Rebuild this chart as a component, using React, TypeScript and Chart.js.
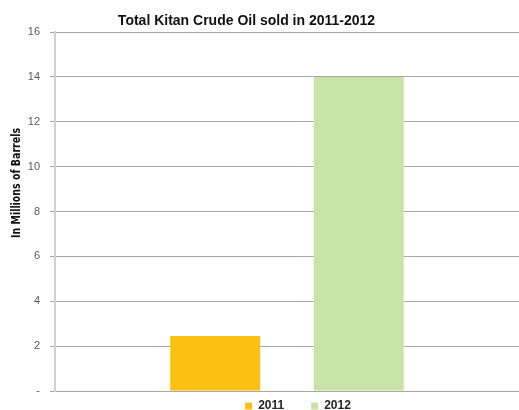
import React, { useEffect, useRef } from "react";
import { Chart, registerables } from "chart.js";

Chart.register(...registerables);

const categories: string[] = [""];
const seriesLabels: string[] = ["2011", "2012"];
const values2011: number[] = [2.45];
const values2012: number[] = [14];
const seriesColors: string[] = ["#FCC013", "#C9E2A6"];
const yTicks: number[] = [0, 2, 4, 6, 8, 10, 12, 14, 16];
const titleText = "Total Kitan Crude Oil sold in 2011-2012";
const yAxisTitle = "In Millions of Barrels";

const textPlugin = {
  id: "customTexts",
  afterLayout(chart: any) {
    const lg = chart.legend;
    if (lg) {
      lg.top -= 18;
      lg.bottom = chart.height + 40;
      lg.height = lg.bottom - lg.top;
      lg.left += 11;
      lg.right += 11;
    }
  },
  afterDraw(chart: any) {
    const ctx = chart.ctx as CanvasRenderingContext2D;
    ctx.save();
    ctx.fillStyle = "#111111";
    ctx.font = 'bold 14px "Liberation Sans", Arial, sans-serif';
    ctx.textAlign = "center";
    ctx.textBaseline = "alphabetic";
    ctx.fillText(titleText, 246.5, 25);
    ctx.restore();

    ctx.save();
    ctx.fillStyle = "#111111";
    ctx.font = 'bold 12px "Liberation Sans Narrow", "DejaVu Sans Condensed", sans-serif';
    ctx.textAlign = "center";
    ctx.textBaseline = "middle";
    ctx.translate(17, 183);
    ctx.rotate(-Math.PI / 2);
    const w = ctx.measureText(yAxisTitle).width;
    if (w > 0) ctx.scale(110 / w, 1);
    ctx.fillText(yAxisTitle, 0, 0);
    ctx.restore();
  },
};

export default function App() {
  const ref = useRef<HTMLCanvasElement | null>(null);
  useEffect(() => {
    if (!ref.current) return;
    const chart = new Chart(ref.current, {
      type: "bar",
      data: {
        labels: categories,
        datasets: [
          {
            label: seriesLabels[0],
            data: values2011,
            backgroundColor: seriesColors[0],
            borderWidth: 0,
            categoryPercentage: 0.6185,
            barPercentage: 0.627,
          },
          {
            label: seriesLabels[1],
            data: values2012,
            backgroundColor: seriesColors[1],
            borderWidth: 0,
            categoryPercentage: 0.6185,
            barPercentage: 0.627,
          },
        ],
      },
      options: {
        animation: false,
        responsive: false,
        devicePixelRatio: 1,
        layout: { padding: { top: 32, left: 0, right: 0, bottom: 0 } },
        plugins: {
          title: { display: false },
          tooltip: { enabled: false },
          legend: {
            display: true,
            position: "bottom",
            fullSize: false,
            maxHeight: 19,
            labels: {
              boxWidth: 7,
              boxHeight: 7,
              padding: 27,
              color: "#262626",
              font: { family: '"Liberation Sans", Arial, sans-serif', size: 12, weight: "bold" },
            },
          },
        },
        scales: {
          x: {
            display: false,
          },
          y: {
            min: 0,
            max: 16,
            afterFit: (scale: any) => {
              scale.width = 55;
            },
            afterBuildTicks: (scale: any) => {
              scale.ticks = yTicks.map((v) => ({ value: v }));
            },
            ticks: {
              stepSize: 2,
              padding: 10,
              color: "#595959",
              font: { family: '"Liberation Sans", Arial, sans-serif', size: 11 },
              callback: (v: any) => (Number(v) === 0 ? "-" : String(v)),
            },
            grid: {
              color: "#a6a6a6",
              tickLength: 5,
              lineWidth: 1,
            },
            border: { color: "#d0d0d0", width: 2 },
          },
        },
      },
      plugins: [textPlugin],
    });
    return () => chart.destroy();
  }, []);
  return (
    <div style={{ position: "absolute", left: 0, top: 0, width: 519, height: 410, background: "#ffffff" }}>
      <canvas ref={ref} width={519} height={410} style={{ display: "block" }} />
    </div>
  );
}
